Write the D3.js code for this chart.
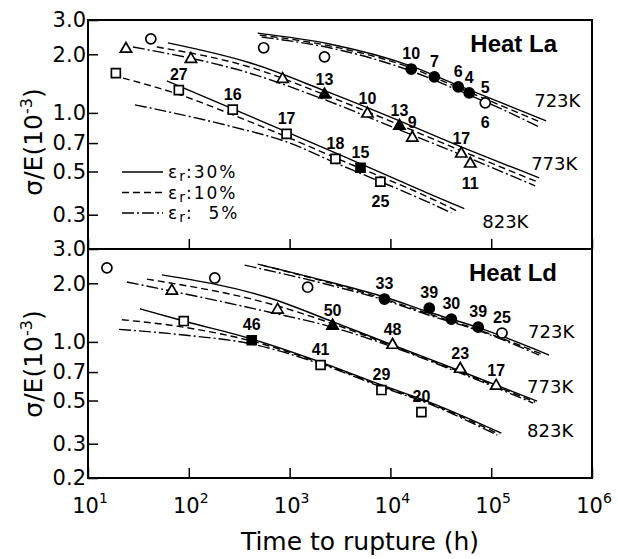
<!DOCTYPE html>
<html>
<head>
<meta charset="utf-8">
<script src="https://cdn.jsdelivr.net/npm/d3@7"></script>
<style>
  body { margin: 0; background: #fff; }
  svg text { font-family: "DejaVu Sans", sans-serif; fill: #000; }
  svg text.ptlab { font-family: "Liberation Sans", Arial, sans-serif; }
</style>
</head>
<body>
<div id="chart"></div>
<script>
//---------------------------------- Data (time in h, sigma/E in 1e-3) --------------------
var xTicks = [1e1, 1e2, 1e3, 1e4, 1e5, 1e6];
var xTickPow = ["1", "2", "3", "4", "5", "6"];
var yTicksLa = [3.0, 2.0, 1.0, 0.7, 0.5, 0.3];
var yTicksLd = [3.0, 2.0, 1.0, 0.7, 0.5, 0.3, 0.2];
var legendNames = ["30%", "10%", "\u00a0\u00a05%"];

// Heat La, creep rupture lines for er = 30%, 10%, 5%
var la723_30 = [[482,2.57],[2490,2.26],[16100,1.74],[48200,1.376],[120000,1.139],[351000,0.910]];
var la723_10 = [[505,2.51],[2490,2.21],[16100,1.70],[48200,1.34],[120000,1.10],[320000,0.889]];
var la723_5  = [[528,2.45],[2490,2.16],[16100,1.64],[48200,1.30],[120000,1.06],[299000,0.848]];
var la773_30 = [[62,2.29],[402,1.81],[2220,1.30],[12300,0.910],[50500,0.669],[299000,0.464]];
var la773_10 = [[48.2,2.18],[402,1.72],[2220,1.24],[12300,0.868],[50500,0.639],[285000,0.443]];
var la773_5  = [[27.9,2.18],[402,1.60],[2220,1.17],[12300,0.818],[50500,0.609],[273000,0.422]];
var la823_30 = [[60.6,1.46],[273,1.05],[933,0.799],[2850,0.624],[24300,0.384],[54100,0.322]];
var la823_10 = [[22.2,1.51],[77.8,1.25],[273,0.977],[933,0.754],[2850,0.588],[24300,0.367],[45000,0.315]];
var la823_5  = [[29.2,1.10],[273,0.848],[933,0.710],[2850,0.554],[24300,0.346],[40200,0.307]];

// Heat Ld
var ld723_30 = [[482,2.51],[2490,2.03],[8730,1.70],[24300,1.42],[76000,1.18],[375000,0.856]];
var ld723_10 = [[528,2.48],[2490,2.01],[8730,1.66],[24300,1.39],[76000,1.15],[335000,0.856]];
var ld723_5  = [[358,2.48],[2490,1.96],[8730,1.64],[24300,1.37],[76000,1.14],[299000,0.856]];
var ld773_30 = [[54.1,2.21],[634,1.68],[2670,1.27],[10500,0.964],[49300,0.709],[285000,0.497]];
var ld773_10 = [[38.4,2.10],[634,1.57],[2670,1.24],[10500,0.953],[49300,0.700],[273000,0.491]];
var ld773_5  = [[24.3,2.03],[634,1.42],[2670,1.19],[10500,0.942],[49300,0.692],[261000,0.485]];
var ld823_30 = [[32.7,1.48],[89.1,1.28],[421,1.035],[2030,0.788],[8150,0.601],[24300,0.491],[126000,0.340]];
var ld823_10 = [[21.7,1.30],[89.1,1.19],[421,1.01],[2030,0.779],[8150,0.594],[24300,0.485],[120000,0.336]];
var ld823_5  = [[20.3,1.16],[89.1,1.085],[421,0.975],[2030,0.770],[8150,0.587],[24300,0.480],[115000,0.332]];

// test points: [time, sigma/E, label above, label below]
var laOpenCircle   = [[42,2.40],[553,2.16],[2220,1.94],[87300,1.126,"5","6"]];
var laFilledCircle = [[16100,1.68,"10"],[27300,1.53,"7"],[47100,1.36,"6"],[60500,1.267,"4"]];
var laOpenTri      = [[23.8,2.13],[105,1.89],[853,1.49],[5920,0.99,"10"],[16500,0.745,"9"],[50500,0.617,"17"],[62000,0.548,"","11"]];
var laFilledTri    = [[2220,1.24,"13"],[12300,0.858,"13"]];
var laOpenSq       = [[18.9,1.60],[79.6,1.31,"27"],[273,1.04,"16"],[933,0.781,"17"],[2850,0.581,"18"],[7960,0.443,"","25"]];
var laFilledSq     = [[5050,0.523,"15"]];

var ldOpenCircle   = [[15.4,2.40],[181,2.13],[1510,1.91],[128000,1.11,"25"]];
var ldFilledCircle = [[8730,1.66,"33"],[24300,1.49,"39"],[40200,1.31,"30"],[74300,1.19,"39"]];
var ldOpenTri      = [[67.9,1.83],[760,1.46],[10500,0.964,"48"],[49300,0.726,"23"],[112000,0.594,"17"]];
var ldFilledTri    = [[2670,1.21,"50"]];
var ldOpenSq       = [[89.1,1.28],[2030,0.761,"41"],[8150,0.566,"29"],[20300,0.436,"20"]];
var ldFilledSq     = [[421,1.02,"46"]];

// temperature labels: [time, sigma/E, text]
var laTemps = [[267000,1.07,"723K"],[249000,0.510,"773K"],[81500,0.257,"823K"]];
var ldTemps = [[232000,1.047,"723K"],[227000,0.546,"773K"],[227000,0.325,"823K"]];

//---------------------------------- View --------------------
var width = 618, height = 559;
var left = 88, right = 592;

var svg = d3.select("#chart").append("svg")
    .attr("width", width)
    .attr("height", height);

var x_scale = d3.scaleLog().domain([1e1, 1e6]).range([left, right]);

var dashes = ["none", "7,4", "12,3,2,3"];

var sym = {
  circle: d3.symbol().type(d3.symbolCircle).size(80),
  tri: d3.symbol().type(d3.symbolTriangle).size(55),
  sq: d3.symbol().type(d3.symbolSquare).size(80)
};

var panels = [
  {name: "Heat La", top: 20, bottom: 249, yTicks: yTicksLa, titleY: 142,
   lines: [la723_30, la723_10, la723_5, la773_30, la773_10, la773_5, la823_30, la823_10, la823_5],
   marks: [[laOpenCircle,"circle",false],[laFilledCircle,"circle",true],[laOpenTri,"tri",false],
           [laFilledTri,"tri",true],[laOpenSq,"sq",false],[laFilledSq,"sq",true]],
   temps: laTemps},
  {name: "Heat Ld", top: 249, bottom: 478, yTicks: yTicksLd, titleY: 364,
   lines: [ld723_30, ld723_10, ld723_5, ld773_30, ld773_10, ld773_5, ld823_30, ld823_10, ld823_5],
   marks: [[ldOpenCircle,"circle",false],[ldFilledCircle,"circle",true],[ldOpenTri,"tri",false],
           [ldFilledTri,"tri",true],[ldOpenSq,"sq",false],[ldFilledSq,"sq",true]],
   temps: ldTemps}
];

panels.forEach(function(p) {
  var y_scale = d3.scaleLog().domain([0.2, 3.0]).range([p.bottom, p.top]);
  var g = svg.append("g").attr("class", "panel");

  // ---------- curves ----------
  var line = d3.line()
      .x(function(d) { return x_scale(d[0]); })
      .y(function(d) { return y_scale(d[1]); })
      .curve(d3.curveMonotoneX);

  g.selectAll(".rupture_line")
      .data(p.lines)
      .enter().append("path")
      .attr("class", "rupture_line")
      .attr("d", line)
      .attr("fill", "none")
      .attr("stroke", "#000")
      .attr("stroke-width", 1.4)
      .attr("stroke-dasharray", function(d, i) { return dashes[i % 3]; });

  // ---------- points + labels ----------
  p.marks.forEach(function(m) {
    g.selectAll(null)
        .data(m[0])
        .enter().append("path")
        .attr("d", sym[m[1]])
        .attr("transform", function(d) { return "translate(" + x_scale(d[0]) + "," + y_scale(d[1]) + ")"; })
        .attr("fill", m[2] ? "#000" : "#fff")
        .attr("stroke", "#000")
        .attr("stroke-width", 1.7);

    g.selectAll(null)
        .data(m[0].filter(function(d) { return d[2]; }))
        .enter().append("text")
        .attr("class", "ptlab")
        .attr("x", function(d) { return x_scale(d[0]); })
        .attr("y", function(d) { return y_scale(d[1]) - 10; })
        .attr("text-anchor", "middle")
        .attr("font-size", "16px")
        .attr("font-weight", "bold")
        .text(function(d) { return d[2]; });

    g.selectAll(null)
        .data(m[0].filter(function(d) { return d[3]; }))
        .enter().append("text")
        .attr("class", "ptlab")
        .attr("x", function(d) { return x_scale(d[0]); })
        .attr("y", function(d) { return y_scale(d[1]) + 25; })
        .attr("text-anchor", "middle")
        .attr("font-size", "16px")
        .attr("font-weight", "bold")
        .text(function(d) { return d[3]; });
  });

  g.selectAll(".temp")
      .data(p.temps)
      .enter().append("text")
      .attr("class", "temp")
      .attr("x", function(d) { return x_scale(d[0]); })
      .attr("y", function(d) { return y_scale(d[1]); })
      .attr("font-size", "18px")
      .text(function(d) { return d[2]; });

  g.append("text")
      .attr("class", "ptlab")
      .attr("x", 557)
      .attr("y", p.top + 32)
      .attr("text-anchor", "end")
      .attr("font-size", "24px")
      .attr("font-weight", "bold")
      .text(p.name);

  // ---------- axes ----------
  var yAxis = d3.axisLeft(y_scale)
      .tickValues(p.yTicks)
      .tickSize(-10)
      .tickPadding(2)
      .tickFormat(d3.format(".1f"));
  var ya = g.append("g").attr("transform", "translate(" + left + ",0)").call(yAxis);
  ya.select(".domain").remove();
  ya.selectAll("line").attr("stroke-width", 1.5);
  ya.selectAll("text").attr("font-size", "21px").attr("font-family", "DejaVu Sans").attr("fill", "#000");

  var xAxis = d3.axisBottom(x_scale).tickValues(xTicks).tickSize(-10).tickFormat("");
  var xa = g.append("g").attr("transform", "translate(0," + p.bottom + ")").call(xAxis);
  xa.select(".domain").remove();
  xa.selectAll("line").attr("stroke-width", 1.5);

  // y title
  var yt = g.append("text")
      .attr("transform", "translate(42," + p.titleY + ") rotate(-90)")
      .attr("text-anchor", "middle")
      .attr("font-size", "25px");
  yt.append("tspan").text("\u03c3/E(10");
  yt.append("tspan").attr("dy", -10).attr("font-size", "16px").text("-3");
  yt.append("tspan").attr("dy", 10).text(")");
});

// ---------- frame ----------
svg.append("rect")
    .attr("x", left).attr("y", 20)
    .attr("width", right - left).attr("height", 478 - 20)
    .attr("fill", "none").attr("stroke", "#000").attr("stroke-width", 2);
svg.append("line")
    .attr("x1", left).attr("x2", right)
    .attr("y1", 249).attr("y2", 249)
    .attr("stroke", "#000").attr("stroke-width", 2);

// ---------- x tick labels ----------
var xl = svg.selectAll(".xlab")
    .data(xTicks)
    .enter().append("text")
    .attr("class", "xlab")
    .attr("x", function(d) { return x_scale(d) + 2; })
    .attr("y", 513)
    .attr("text-anchor", "middle")
    .attr("font-size", "21px");
xl.append("tspan").text("10");
xl.append("tspan").attr("dy", -10).attr("font-size", "14px").text(function(d, i) { return xTickPow[i]; });

svg.append("text")
    .attr("x", 360)
    .attr("y", 550)
    .attr("text-anchor", "middle")
    .attr("font-size", "25px")
    .text("Time to rupture (h)");

// ---------- legend ----------
var legend = svg.append("g").attr("class", "legend");
legendNames.forEach(function(name, i) {
  var ly = 172 + i * 20.5;
  legend.append("line")
      .attr("x1", 122).attr("x2", 163)
      .attr("y1", ly).attr("y2", ly)
      .attr("stroke", "#000").attr("stroke-width", 1.4)
      .attr("stroke-dasharray", dashes[i]);
  var t = legend.append("text")
      .attr("x", 168).attr("y", ly + 6)
      .attr("font-size", "17px")
      .attr("letter-spacing", "2px");
  t.append("tspan").text("\u03b5");
  t.append("tspan").attr("dy", 3).attr("font-size", "14px").attr("letter-spacing", "1px").text("r");
  t.append("tspan").attr("dy", -3).text(":" + name);
});
</script>
</body>
</html>
